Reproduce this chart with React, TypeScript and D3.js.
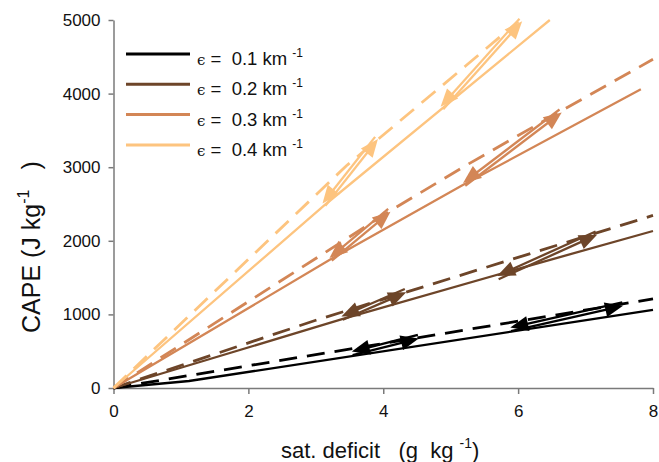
import React, { useRef, useEffect } from "react";
import * as d3 from "d3";

// axis ticks
const xTicks = [0, 2, 4, 6, 8];
const yTicks = [0, 1000, 2000, 3000, 4000, 5000];

// legend
const epsLabels = ["0.1", "0.2", "0.3", "0.4"];
const colors = ["#000000", "#6d4529", "#d38656", "#fdc47f"];

// solid curves (sat. deficit, CAPE)
const solid01 = [[0, 0], [1.12, 95], [8, 1060]];
const solid02 = [[0, 0], [3.39, 935], [6.04, 1630], [8, 2133]];
const solid03 = [[0, 0], [3.22, 1748], [5.2, 2767], [7.82, 4058]];
const solid04 = [[0, 0], [3.15, 2500], [6.47, 5000]];

// dashed curves
const dashed01 = [[0, 0], [8, 1210]];
const dashed02 = [[0, 0], [3, 920], [5, 1490], [8, 2345]];
const dashed03 = [[0, 0], [4.09, 2400], [5.2, 3010], [6.63, 3760], [8, 4466]];
const dashed04 = [[0, 0], [3.45, 3016], [5.22, 4375], [6.0, 4980]];

// arrow pairs: [x low, y low, x high, y high]
const arrows01 = [[3.54, 471, 4.52, 697], [5.89, 797, 7.55, 1141]];
const arrows02 = [[3.39, 950, 4.33, 1322], [5.7, 1500, 7.16, 2105]];
const arrows03 = [[3.22, 1748, 4.09, 2414], [5.2, 2767, 6.63, 3764]];
const arrows04 = [[3.12, 2490, 3.9, 3397], [4.87, 3804, 6.04, 5000]];

const solidLines = [solid01, solid02, solid03, solid04];
const dashedLines = [dashed01, dashed02, dashed03, dashed04];
const arrowSets = [arrows01, arrows02, arrows03, arrows04];

const FONT = "'Liberation Sans', Arial, sans-serif";

const App = () => {
  const svgRef = useRef(null);

  useEffect(() => {
    const svg = d3.select(svgRef.current);
    svg.selectAll("*").remove();

    const x = d3.scaleLinear().domain([0, 8]).range([113.5, 653]);
    const y = d3.scaleLinear().domain([0, 5000]).range([388, 20]);

    const line = d3
      .line()
      .x((d) => x(d[0]))
      .y((d) => y(d[1]));

    // axes
    const xAxis = svg
      .append("g")
      .attr("transform", `translate(0,${y(0)})`)
      .call(
        d3.axisBottom(x).tickValues(xTicks).tickFormat(d3.format("d"))
          .tickSize(6).tickSizeOuter(0).tickPadding(11)
      );
    const yAxis = svg
      .append("g")
      .attr("transform", `translate(${x(0)},0)`)
      .call(
        d3.axisLeft(y).tickValues(yTicks).tickFormat(d3.format("d"))
          .tickSize(5).tickSizeOuter(0).tickPadding(8)
      );
    [xAxis, yAxis].forEach((g) => {
      g.selectAll("path, line").attr("stroke", "#7a7a7a").attr("stroke-width", 1.5);
      g.selectAll("text")
        .attr("fill", "#111")
        .style("font-family", FONT)
        .style("font-size", "17px");
    });

    // curves
    colors.forEach((c, i) => {
      svg
        .append("path")
        .attr("d", line(dashedLines[i]))
        .attr("fill", "none")
        .attr("stroke", c)
        .attr("stroke-width", 2.8)
        .attr("stroke-dasharray", "18,10");
      svg
        .append("path")
        .attr("d", line(solidLines[i]))
        .attr("fill", "none")
        .attr("stroke", c)
        .attr("stroke-width", 2.3);

      // arrows
      arrowSets[i].forEach((a) => {
        const p0 = [x(a[0]), y(a[1])];
        const p1 = [x(a[2]), y(a[3])];
        const len = Math.hypot(p1[0] - p0[0], p1[1] - p0[1]);
        const u = [(p1[0] - p0[0]) / len, (p1[1] - p0[1]) / len];
        const n = [-u[1], u[0]];
        const off = 1.8;
        const L = 18;
        const W = 7.5;
        const drawArrow = (from, to, dir) => {
          svg
            .append("line")
            .attr("x1", from[0])
            .attr("y1", from[1])
            .attr("x2", to[0] - dir[0] * L * 0.7)
            .attr("y2", to[1] - dir[1] * L * 0.7)
            .attr("stroke", c)
            .attr("stroke-width", 2.3);
          const b = [to[0] - dir[0] * L, to[1] - dir[1] * L];
          const pn = [-dir[1], dir[0]];
          svg
            .append("polygon")
            .attr(
              "points",
              [
                to,
                [b[0] + pn[0] * W, b[1] + pn[1] * W],
                [b[0] - pn[0] * W, b[1] - pn[1] * W],
              ]
                .map((p) => p.join(","))
                .join(" ")
            )
            .attr("fill", c);
        };
        drawArrow(
          [p0[0] + n[0] * off, p0[1] + n[1] * off],
          [p1[0] + n[0] * off, p1[1] + n[1] * off],
          u
        );
        drawArrow(
          [p1[0] - n[0] * off, p1[1] - n[1] * off],
          [p0[0] - n[0] * off, p0[1] - n[1] * off],
          [-u[0], -u[1]]
        );
      });
    });

    // legend
    const legend = svg.append("g");
    epsLabels.forEach((lab, i) => {
      const ly = 54 + i * 30.3;
      legend
        .append("line")
        .attr("x1", 126)
        .attr("x2", 190)
        .attr("y1", ly)
        .attr("y2", ly)
        .attr("stroke", colors[i])
        .attr("stroke-width", 3);
      const t = legend
        .append("text")
        .attr("x", 197)
        .attr("y", ly + 11)
        .attr("fill", "#111")
        .style("font-family", FONT)
        .style("font-size", "18.5px")
        .style("white-space", "pre");
      t.append("tspan").style("font-family", "'DejaVu Serif', serif").style("font-size", "15px").text("ϵ");
      t.append("tspan").text(` =  ${lab} km `);
      t.append("tspan").attr("dy", -8).style("font-size", "12px").text("-1");
    });

    // axis titles
    const xt = svg
      .append("text")
      .attr("x", 281)
      .attr("y", 458)
      .attr("fill", "#111")
      .style("font-family", FONT)
      .style("font-size", "22px")
      .style("white-space", "pre");
    xt.append("tspan").text("sat. deficit   (g  kg ");
    xt.append("tspan").attr("dy", -10).style("font-size", "14px").text("-1");
    xt.append("tspan").attr("dy", 10).text(")");

    const yt = svg
      .append("text")
      .attr("transform", "translate(40,333) rotate(-90)")
      .attr("fill", "#111")
      .style("font-family", FONT)
      .style("font-size", "25px")
      .style("white-space", "pre");
    yt.append("tspan").text("CAPE (J kg");
    yt.append("tspan").attr("dy", -11).style("font-size", "16px").text("-1");
    yt.append("tspan").attr("dy", 11).attr("dx", 20).text(")");
  }, []);

  return (
    <svg
      ref={svgRef}
      width={659}
      height={462}
      style={{ position: "absolute", left: 0, top: 0, background: "#fff" }}
    ></svg>
  );
};

export default App;
